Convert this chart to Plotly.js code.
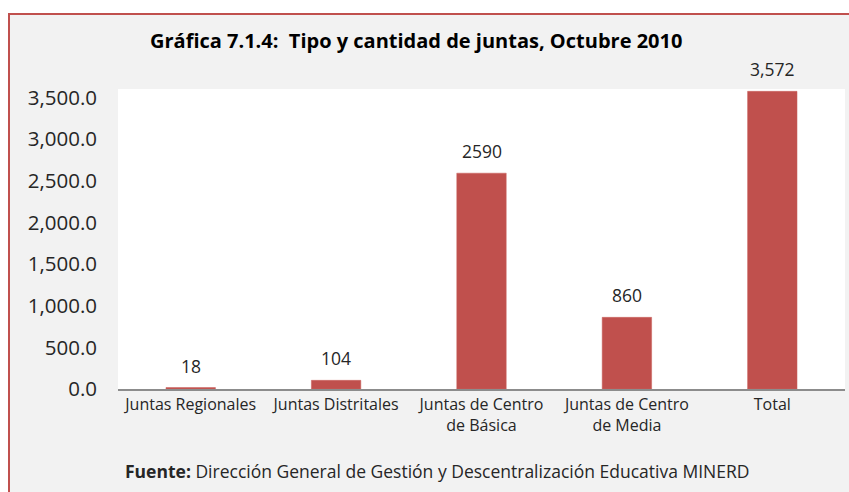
<!DOCTYPE html>
<html>
<head>
<meta charset="utf-8">
<script src="https://cdn.plot.ly/plotly-3.0.1.min.js"></script>
<style>
  html, body { margin: 0; padding: 0; background: #ffffff; width: 849px; height: 492px; overflow: hidden; }
  #frame { position: absolute; left: 8px; top: 13px; border-left: 2px solid #c0504d; border-top: 2px solid #c0504d; }
  #chart { width: 841px; height: 479px; }
</style>
</head>
<body>
<div id="frame"><div id="chart"></div></div>
<script>
const categories = ["Juntas Regionales", "Juntas Distritales", "Juntas de Centro<br>de Básica", "Juntas de Centro<br>de Media", "Total"];
const values = [18, 104, 2590, 860, 3572];
const valueLabels = ["18", "104", "2590", "860", "3,572"];
const tickValues = [0, 500, 1000, 1500, 2000, 2500, 3000, 3500];
const titleText = "<b>Gráfica 7.1.4:  Tipo y cantidad de juntas, Octubre 2010</b>";
const sourceText = "<b>Fuente:</b> Dirección General de Gestión y Descentralización Educativa MINERD";

const FONT = "'Open Sans', Lato, sans-serif";

const trace = {
  type: "bar",
  x: categories,
  y: values,
  marker: { color: "#c0504d", line: { color: "#c8605d", width: 0.5 } },
  width: 0.34,
  hoverinfo: "none"
};

const valueAnnotations = categories.map((c, i) => ({
  x: c, y: values[i], xref: "x", yref: "y",
  text: valueLabels[i], showarrow: false,
  xanchor: "center", yanchor: "middle", yshift: 22,
  font: { family: FONT, size: 17.5, color: "#262626" }
}));

const layout = {
  width: 841,
  height: 479,
  paper_bgcolor: "#f2f2f2",
  plot_bgcolor: "#ffffff",
  margin: { l: 108, r: 6, t: 74, b: 105 },
  showlegend: false,
  title: {
    text: titleText,
    font: { family: FONT, size: 20, color: "#000000" },
    xref: "container", x: 0.483, xanchor: "center",
    yref: "container", y: 0.945, yanchor: "middle"
  },
  xaxis: {
    type: "category",
    showline: true, linecolor: "#8c8c8c", linewidth: 1.5,
    showgrid: false, zeroline: false,
    ticks: "",
    tickfont: { family: FONT, size: 16, color: "#262626" },
    fixedrange: true
  },
  yaxis: {
    range: [0, 3600],
    tickvals: tickValues,
    tickformat: ",.1f",
    showline: false, showgrid: false, zeroline: false,
    ticks: "",
    ticklabelstandoff: 20,
    tickfont: { family: FONT, size: 20.5, color: "#262626" },
    fixedrange: true
  },
  annotations: valueAnnotations.concat([{
    text: sourceText,
    xref: "paper", yref: "paper",
    x: 0.439, y: -0.272,
    xanchor: "center", yanchor: "middle",
    showarrow: false,
    font: { family: FONT, size: 17.5, color: "#262626" }
  }])
};

Plotly.newPlot("chart", [trace], layout, { staticPlot: true, displayModeBar: false });
</script>
</body>
</html>
